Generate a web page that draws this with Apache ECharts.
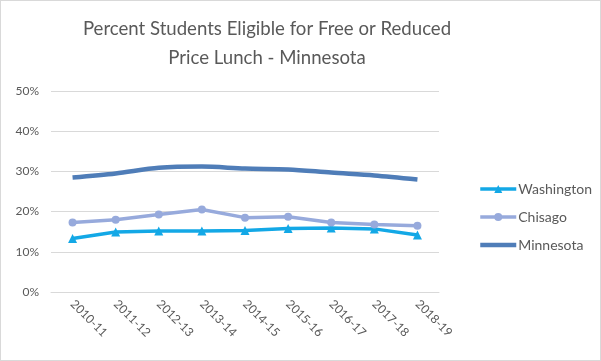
<!DOCTYPE html>
<html><head><meta charset="utf-8">
<script src="https://cdn.jsdelivr.net/npm/echarts@6/dist/echarts.min.js"></script>
<style>
html,body{margin:0;padding:0;background:#fff;}
#c{position:absolute;left:0;top:0;width:599px;height:359px;border:1px solid #D9D9D9;}
</style></head>
<body><div id="c"></div>
<script>
var categories = ["2010-11","2011-12","2012-13","2013-14","2014-15","2015-16","2016-17","2017-18","2018-19"];
var washington = [13.3, 14.9, 15.2, 15.2, 15.3, 15.8, 15.9, 15.7, 14.2];
var chisago = [17.3, 18.0, 19.3, 20.5, 18.5, 18.7, 17.3, 16.8, 16.5];
var minnesota = [28.5, 29.5, 30.9, 31.2, 30.7, 30.5, 29.7, 29.0, 28.0];
var yTicks = [0, 10, 20, 30, 40, 50];

var chart = echarts.init(document.getElementById('c'), null, {renderer:'canvas'});
var font = 'Lato, "Open Sans", sans-serif';
chart.setOption({
  animation:false,
  title:{
    text:'Percent Students Eligible for Free or Reduced\nPrice Lunch - Minnesota',
    left:261, top:8, textAlign:'center',
    textStyle:{fontFamily:font, fontSize:18.6, fontWeight:'normal', color:'#595959', lineHeight:29}
  },
  legend:{
    orient:'vertical', left:472, top:176, itemGap:14, itemWidth:36, itemHeight:10,
    textStyle:{fontFamily:font, fontSize:14, color:'#595959', padding:[0,0,0,-3]},
    data:[
      {name:'Washington', lineStyle:{width:3.5}},
      {name:'Chisago', lineStyle:{width:3.5}},
      {name:'Minnesota', itemStyle:{opacity:0}, lineStyle:{width:4.5}}
    ]
  },
  grid:{left:50, top:90, width:388, height:201, containLabel:false},
  xAxis:{
    type:'category', data:categories, boundaryGap:true,
    axisLine:{lineStyle:{color:'#D9D9D9'}}, axisTick:{show:false},
    axisLabel:{rotate:-45, fontFamily:font, fontSize:12, color:'#595959', margin:10, interval:0}
  },
  yAxis:{
    type:'value', min:yTicks[0], max:yTicks[yTicks.length-1], interval:10,
    axisLine:{show:false}, axisTick:{show:false},
    splitLine:{lineStyle:{color:'#D9D9D9'}},
    axisLabel:{formatter:'{value}%', fontFamily:font, fontSize:12, color:'#595959', margin:12}
  },
  series:[
    {name:'Washington', type:'line', data:washington, symbol:'triangle', symbolSize:9,
     lineStyle:{width:3.5, color:'#13A8E6'}, itemStyle:{color:'#13A8E6'}},
    {name:'Chisago', type:'line', data:chisago, symbol:'circle', symbolSize:8,
     lineStyle:{width:3.5, color:'#97AADC'}, itemStyle:{color:'#97AADC'}},
    {name:'Minnesota', type:'line', data:minnesota, symbol:'none', smooth:0.3,
     lineStyle:{width:4.5, color:'#4F7DB8'}, itemStyle:{color:'#4F7DB8'}}
  ]
});
</script></body></html>
